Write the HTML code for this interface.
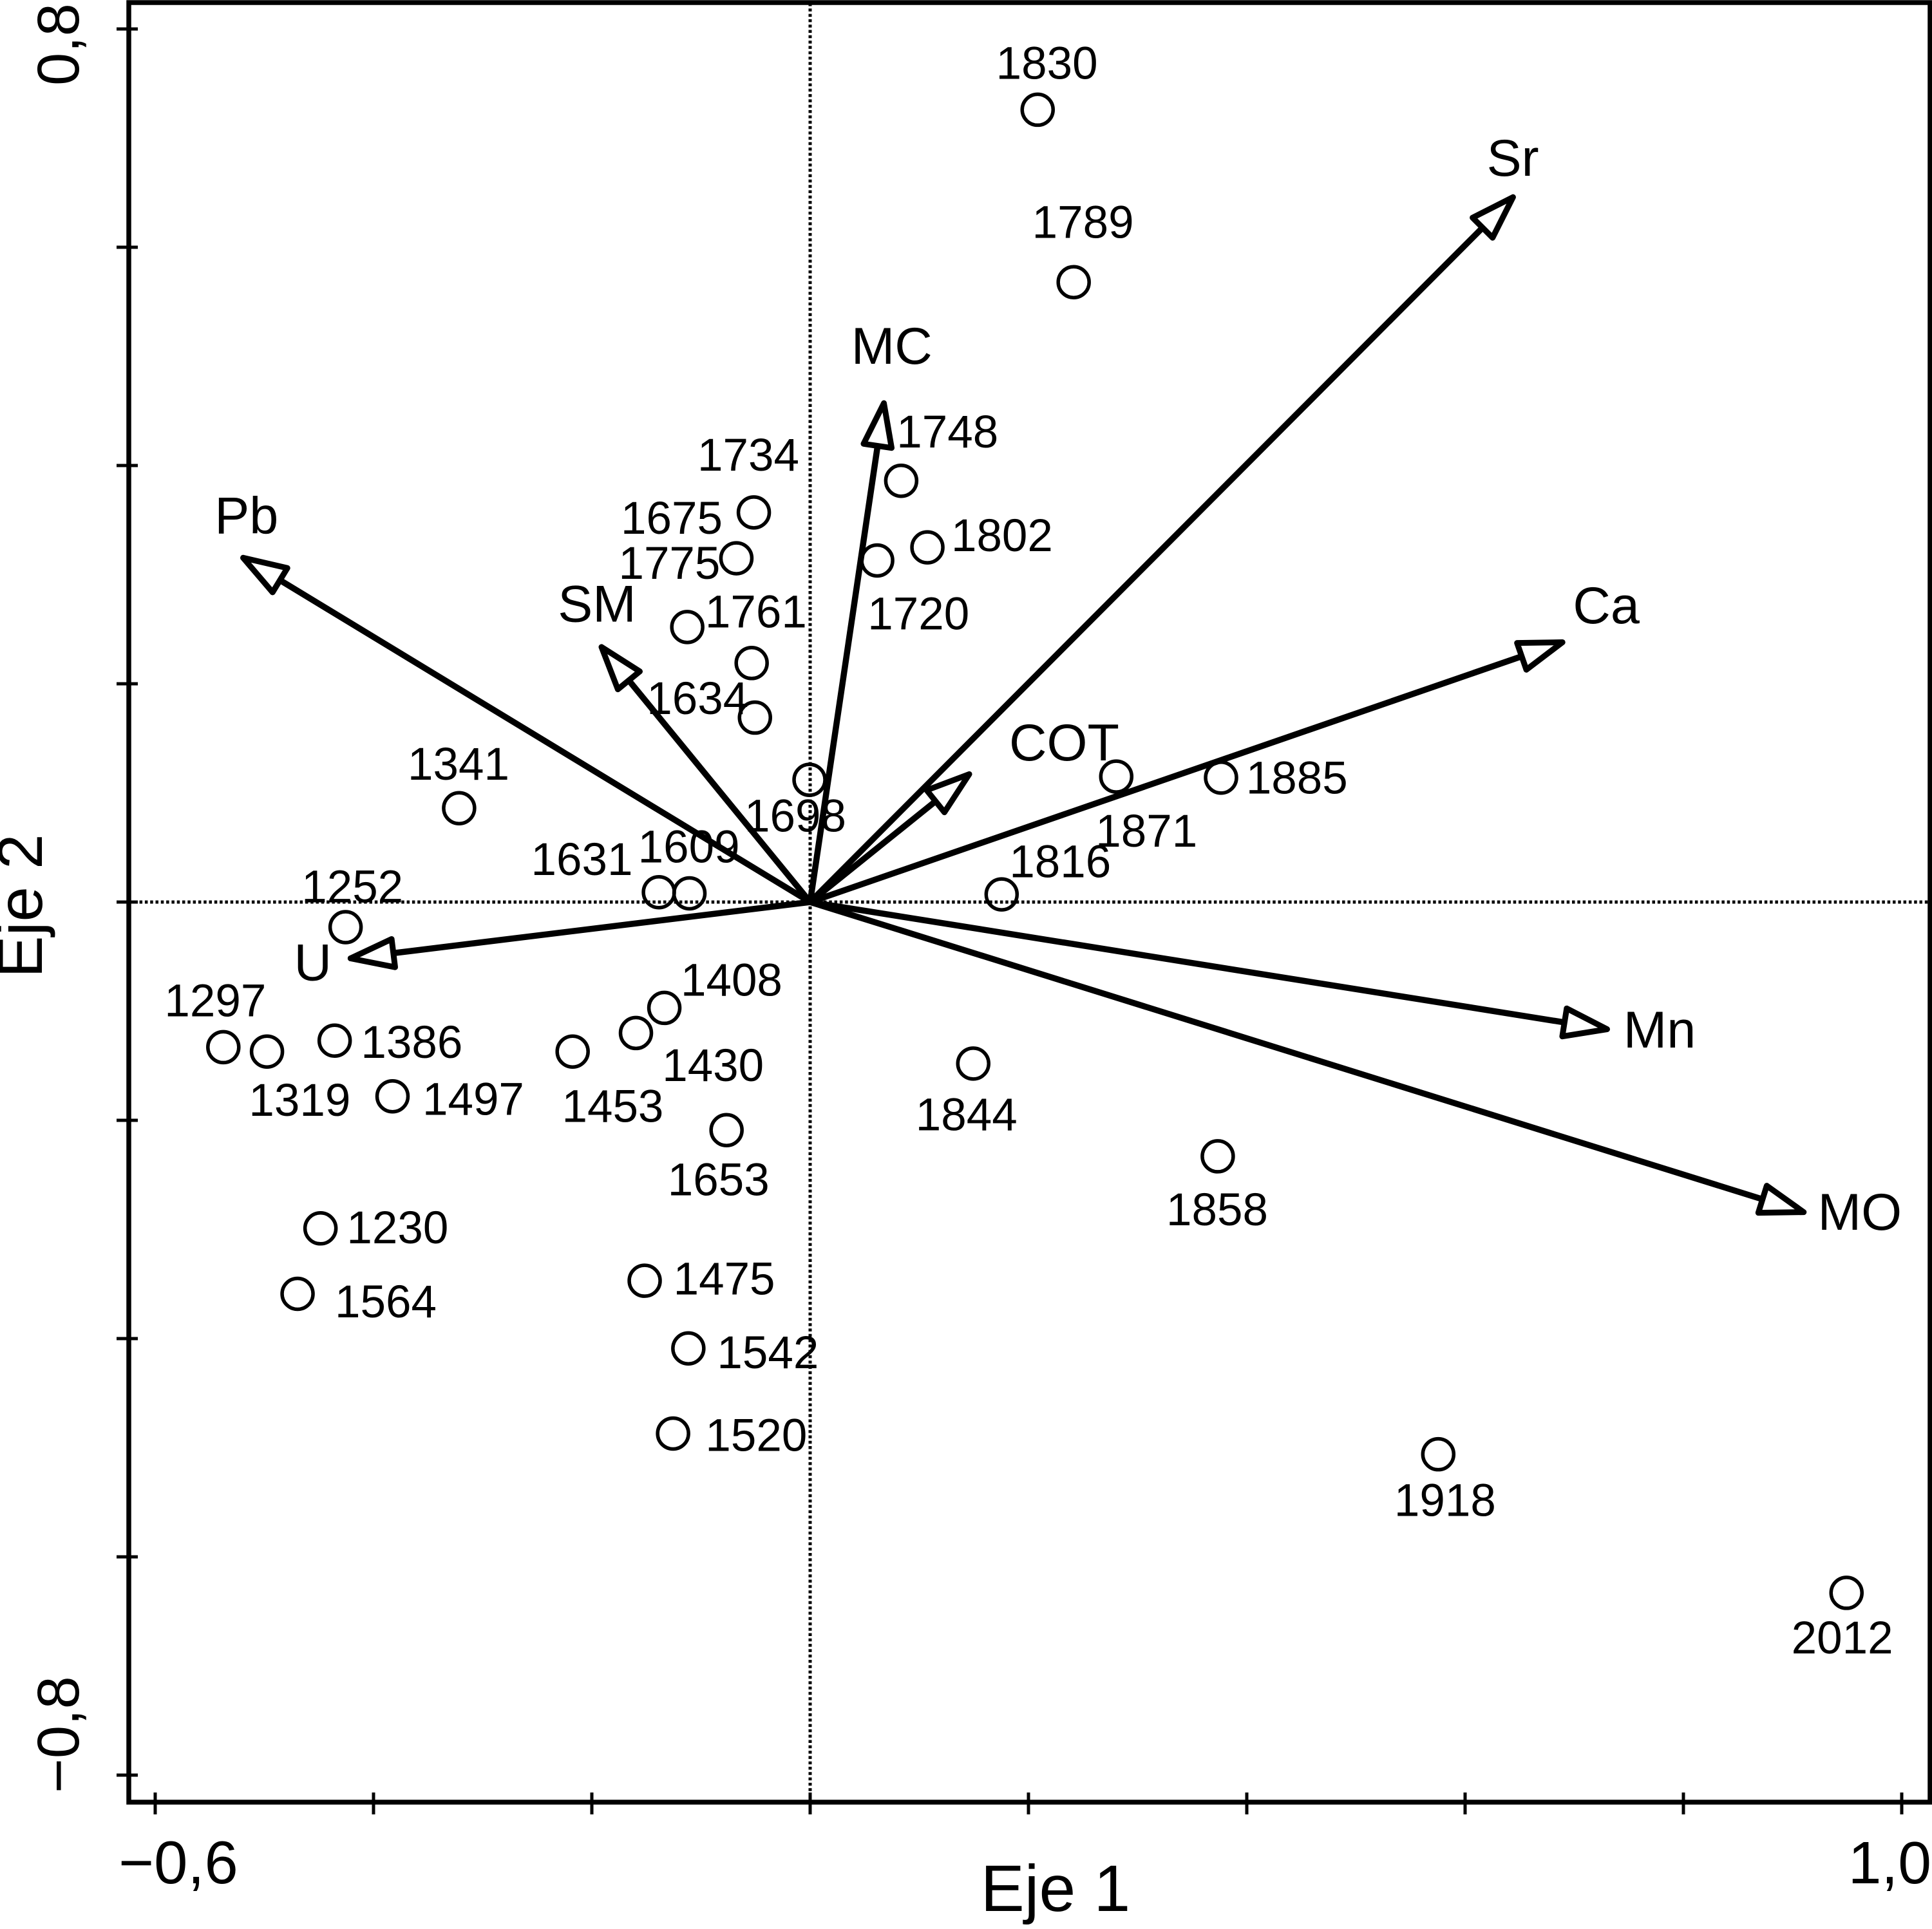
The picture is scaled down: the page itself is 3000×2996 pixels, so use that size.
<!DOCTYPE html>
<html lang="es">
<head>
<meta charset="utf-8">
<title>Eje 1 / Eje 2 biplot</title>
<style>
html,body{margin:0;padding:0;background:#fff;width:3000px;height:2996px;overflow:hidden}
svg{display:block}
text{font-family:"Liberation Sans",Arial,sans-serif;fill:#000}
</style>
</head>
<body>
<svg id="chart" xmlns="http://www.w3.org/2000/svg" width="3000" height="2996" viewBox="0 0 3000 2996">
<rect x="0" y="0" width="3000" height="2996" fill="#fff"/>
</svg>
<script>
const siteLabels = ['1830','1789','1748','1734','1675','1775','1761','1634','1802','1720','1698','1885','1871','1816','1609','1631','1341','1252','1297','1319','1386','1497','1453','1430','1408','1653','1844','1858','1230','1564','1475','1542','1520','1918','2012'];
const siteAxis1 = [0.209,0.242,0.084,-0.051,-0.067,-0.112,-0.053,-0.050,0.108,0.062,0,0.377,0.281,0.176,-0.110,-0.138,-0.321,-0.425,-0.537,-0.497,-0.435,-0.382,-0.217,-0.159,-0.133,-0.076,0.150,0.374,-0.448,-0.469,-0.151,-0.111,-0.125,0.576,0.950];
const siteAxis2 = [0.726,0.568,0.386,0.357,0.315,0.252,0.219,0.169,0.325,0.313,0.112,0.114,0.115,0.007,0.008,0.009,0.086,-0.023,-0.133,-0.137,-0.127,-0.178,-0.137,-0.120,-0.097,-0.209,-0.148,-0.233,-0.299,-0.359,-0.347,-0.409,-0.487,-0.506,-0.633];
const variableNames = ['Sr','Ca','MC','Pb','SM','COT','U','Mn','MO'];
const variableAxis1 = [0.646,0.692,0.068,-0.522,-0.193,0.148,-0.424,0.733,0.913];
const variableAxis2 = [0.648,0.239,0.460,0.317,0.236,0.119,-0.052,-0.117,-0.285];
const xTickValues = [-0.6,-0.4,-0.2,0,0.2,0.4,0.6,0.8,1.0];
const yTickValues = [0.8,0.6,0.4,0.2,0,-0.2,-0.4,-0.6,-0.8];
const xTickLabels = ['\u22120,6','1,0'];
const yTickLabels = ['0,8','\u22120,8'];

/* Layout only: label placement relative to each mark, in px */
const k = 1.9145;
const siteLabelNudge = {1830:[7,-37],1789:[7,-48],1748:[37,-39],1734:[-5,-46],1675:[-53,-32],1775:[-15,-51],1761:[3,-41],1634:[-47,-15],1802:[60,-9],1720:[33,44],1698:[-12,30],1885:[61,1],1871:[24,45],1816:[47,-26],1609:[-1,-37],1631:[-63,-26],1341:[-1,-35],1252:[5,-32],1297:[-7,-37],1319:[26,40],1386:[62,2],1497:[65,3],1453:[32,45],1430:[62,27],1408:[54,-22],1653:[-7,41],1844:[-6,42],1858:[-1,44],1230:[62,0],1564:[71,7],1475:[64,-1],1542:[64,4],1520:[67,2],1918:[5,38],2012:[-4,37]};
const variableLabelNudge = {Sr:[-2,-28],Ca:[33,-27],MC:[6,-42],Pb:[5,-31],SM:[-2,-31],COT:[75,-22],U:[-28,5],Mn:[40,2],MO:[43,1]};

const NS = 'http://www.w3.org/2000/svg';
const svg = document.getElementById('chart');
const originX = 1258, originY = 1401, pxPerUnit = 1695;
function xScale(v){ return originX + v * pxPerUnit; }
function yScale(v){ return originY - v * pxPerUnit; }
function make(tag, attrs, parent){
  const el = document.createElementNS(NS, tag);
  for (const key in attrs) el.setAttribute(key, attrs[key]);
  (parent || svg).appendChild(el);
  return el;
}

/* Zero reference lines */
const zeroV = make('line',{x1:originX,y1:5,x2:originX,y2:2799,stroke:'#000','stroke-width':5,'stroke-dasharray':'4.5 3.8'});


const zeroH = make('line',{x1:200,y1:originY,x2:2998,y2:originY,stroke:'#000','stroke-width':5,'stroke-dasharray':'4.5 3.8'});



/* Plot frame */
const frame = make('rect',{x:200,y:4,width:2797,height:2795,fill:'none',stroke:'#000','stroke-width':7.5});



/* Ticks */
xTickValues.forEach(function(v){
  const t = make('line',{x1:xScale(v),y1:2784,x2:xScale(v),y2:2818,stroke:'#000','stroke-width':5});
  
  
});
yTickValues.forEach(function(v){
  const t = make('line',{x1:181,y1:yScale(v),x2:214,y2:yScale(v),stroke:'#000','stroke-width':5});
  
  
});

/* Axis labels */
const xLow = make('text',{x:xScale(xTickValues[0])+36,y:2925,'text-anchor':'middle','font-size':94});
xLow.textContent = xTickLabels[0];


const xHigh = make('text',{x:2999,y:2925,'text-anchor':'end','font-size':93});
xHigh.textContent = xTickLabels[1];


const yHigh = make('text',{transform:'translate(122,69) rotate(-90)','text-anchor':'middle','font-size':92});
yHigh.textContent = yTickLabels[0];


const yLow = make('text',{transform:'translate(122,2694) rotate(-90)','text-anchor':'middle','font-size':92});
yLow.textContent = yTickLabels[1];


const xTitle = make('text',{x:1639,y:2968,'text-anchor':'middle','font-size':102});
xTitle.textContent = 'Eje 1';


const yTitle = make('text',{transform:'translate(65,1407) rotate(-90)','text-anchor':'middle','font-size':98});
yTitle.textContent = 'Eje 2';



/* Variable arrows */
variableNames.forEach(function(name, i){
  const tipX = xScale(variableAxis1[i]), tipY = yScale(variableAxis2[i]);
  const dx = tipX - originX, dy = tipY - originY;
  const len = Math.sqrt(dx*dx + dy*dy), ux = dx/len, uy = dy/len;
  const headLen = 72, headHalf = 22;
  const baseX = tipX - ux*headLen, baseY = tipY - uy*headLen;
  const group = make('g',{});
  
  
  const shaft = make('line',{x1:originX-ux*2,y1:originY-uy*2,x2:baseX,y2:baseY,stroke:'#000','stroke-width':9.5},group);
  
  
  const pts = [[tipX-ux*5,tipY-uy*5],[baseX-uy*headHalf,baseY+ux*headHalf],[baseX+uy*headHalf,baseY-ux*headHalf]];
  const head = make('polygon',{points:pts.map(function(p){return p[0].toFixed(1)+','+p[1].toFixed(1);}).join(' '),fill:'#fff',stroke:'#000','stroke-width':9,'stroke-linejoin':'round'},group);
  
  
  const nudge = variableLabelNudge[name];
  const label = make('text',{x:tipX+nudge[0]*k,y:tipY+nudge[1]*k+24,'text-anchor':'middle','font-size':81});
  label.textContent = name;
  
  
});

/* Sites */
siteLabels.forEach(function(name, i){
  const cx = xScale(siteAxis1[i]), cy = yScale(siteAxis2[i]);
  const group = make('g',{});
  
  
  const c = make('circle',{cx:cx-1,cy:cy,r:24,fill:'none',stroke:'#000','stroke-width':5.5},group);
  
  
  const nudge = siteLabelNudge[name];
  const label = make('text',{x:cx+nudge[0]*k,y:cy+nudge[1]*k+23,'text-anchor':'middle','font-size':71});
  label.textContent = name;
  
  
});
</script>
</body>
</html>
